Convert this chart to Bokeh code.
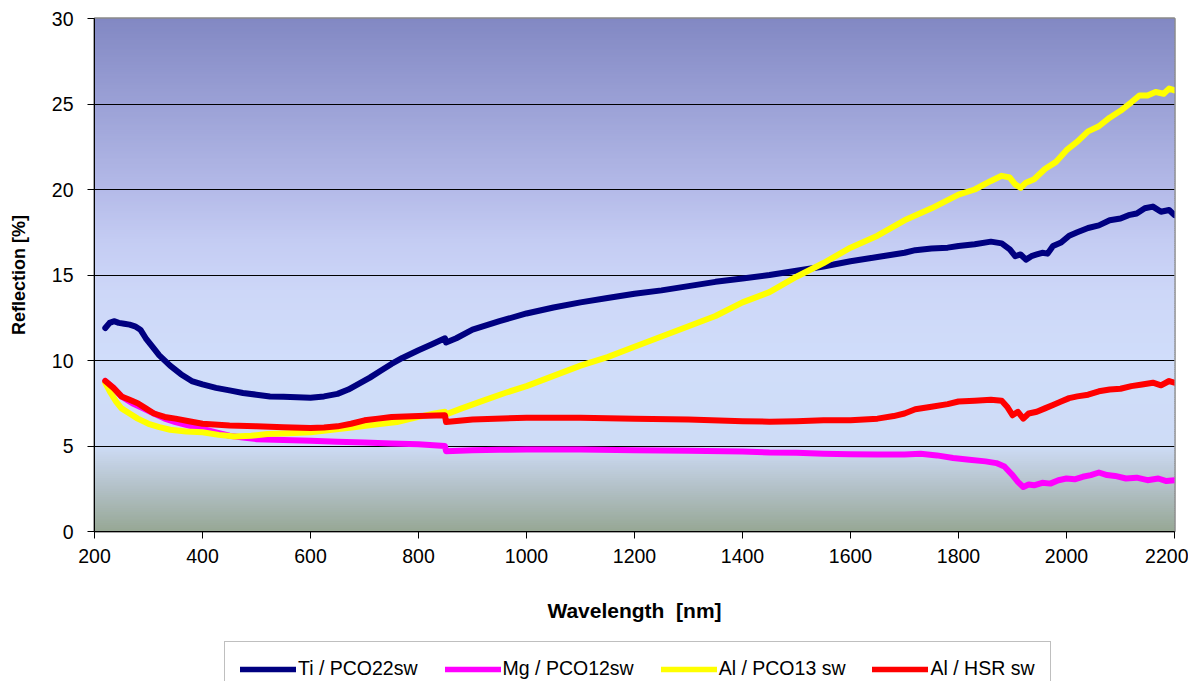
import numpy as np
from bokeh.plotting import figure
from bokeh.layouts import column
from bokeh.models import Range1d, FixedTicker, Legend, LegendItem
from bokeh.embed import file_html
from bokeh.resources import INLINE

# ---------------- data ----------------
series_names = ["Ti / PCO22sw", "Mg / PCO12sw", "Al / PCO13 sw", "Al / HSR sw"]
series_colors = ["#000080", "#FF00FF", "#FFFF00", "#FF0000"]

ti_x = [220, 228, 236, 245, 255, 265, 275, 285, 295, 305, 320, 340, 360, 380, 400, 425, 450, 475, 500, 525,
        550, 575, 600, 625, 650, 670, 690, 710, 730, 750, 770, 800, 825, 849, 851, 870, 900, 950, 1000, 1050,
        1100, 1150, 1200, 1250, 1300, 1350, 1400, 1450, 1500, 1550, 1600, 1650, 1700, 1720, 1750, 1780, 1800,
        1830, 1860, 1880, 1895, 1905, 1915, 1925, 1935, 1945, 1955, 1965, 1975, 1990, 2005, 2020, 2040, 2060,
        2080, 2100, 2115, 2130, 2145, 2160, 2175, 2190, 2200]
ti_y = [11.9, 12.2, 12.3, 12.2, 12.15, 12.1, 12.0, 11.8, 11.3, 10.9, 10.3, 9.7, 9.2, 8.8, 8.6, 8.4, 8.25, 8.1, 8.0, 7.9,
        7.88, 7.85, 7.82, 7.9, 8.05, 8.3, 8.65, 9.0, 9.4, 9.8, 10.15, 10.6, 10.95, 11.3, 11.05, 11.3, 11.8, 12.3, 12.75, 13.1,
        13.4, 13.65, 13.9, 14.1, 14.35, 14.6, 14.8, 15.0, 15.25, 15.5, 15.8, 16.05, 16.3, 16.45, 16.55, 16.6, 16.7,
        16.8, 16.95, 16.85, 16.5, 16.1, 16.2, 15.9, 16.1, 16.2, 16.3, 16.25, 16.7, 16.9, 17.3, 17.5, 17.75, 17.9,
        18.2, 18.3, 18.5, 18.6, 18.9, 19.0, 18.7, 18.8, 18.5]

mg_x = [220, 235, 250, 270, 290, 310, 330, 350, 375, 400, 425, 450, 475, 500, 550, 600, 650, 700, 750, 800, 849,
        851, 900, 950, 1000, 1100, 1200, 1300, 1400, 1450, 1500, 1550, 1600, 1650, 1700, 1730, 1760, 1790, 1820,
        1850, 1870, 1885, 1900, 1910, 1920, 1930, 1940, 1955, 1970, 1985, 2000, 2015, 2030, 2045, 2060, 2075,
        2090, 2110, 2130, 2150, 2170, 2185, 2200]
mg_y = [8.8, 8.4, 7.9, 7.5, 7.2, 6.9, 6.6, 6.4, 6.2, 6.0, 5.8, 5.6, 5.5, 5.4, 5.35, 5.3, 5.25, 5.2, 5.15, 5.1, 5.0,
        4.7, 4.75, 4.78, 4.8, 4.8, 4.75, 4.72, 4.68, 4.62, 4.6, 4.55, 4.52, 4.5, 4.5, 4.55, 4.45, 4.3, 4.2,
        4.1, 4.0, 3.8, 3.3, 2.9, 2.6, 2.75, 2.7, 2.85, 2.8, 3.0, 3.1, 3.05, 3.2, 3.3, 3.45, 3.3,
        3.25, 3.1, 3.15, 3.0, 3.1, 2.95, 3.0]

al13_x = [220, 230, 240, 250, 265, 280, 300, 320, 340, 370, 400, 430, 460, 490, 520, 560, 600, 640, 680, 720, 760,
          800, 830, 849, 851, 880, 920, 960, 1000, 1050, 1100, 1150, 1200, 1250, 1300, 1350, 1400, 1450, 1500, 1550,
          1600, 1650, 1700, 1750, 1800, 1830, 1860, 1880, 1895, 1905, 1915, 1925, 1940, 1960, 1980, 2000, 2020,
          2040, 2060, 2080, 2100, 2120, 2135, 2150, 2165, 2180, 2190, 2200]
al13_y = [8.7, 8.1, 7.6, 7.2, 6.9, 6.6, 6.3, 6.1, 5.95, 5.85, 5.8, 5.65, 5.55, 5.6, 5.7, 5.75, 5.8, 5.95, 6.1, 6.25, 6.4,
          6.7, 6.9, 7.0, 6.85, 7.2, 7.65, 8.1, 8.5, 9.1, 9.7, 10.2, 10.8, 11.4, 12.0, 12.6, 13.4, 14.0, 14.9, 15.7,
          16.6, 17.3, 18.2, 18.9, 19.7, 20.0, 20.5, 20.8, 20.7, 20.3, 20.1, 20.4, 20.6, 21.2, 21.6, 22.3, 22.8,
          23.4, 23.7, 24.2, 24.6, 25.1, 25.5, 25.5, 25.7, 25.6, 25.9, 25.8]

hsr_x = [220, 235, 250, 265, 280, 295, 310, 330, 350, 375, 400, 450, 500, 550, 600, 625, 650, 675, 700, 725, 750,
         800, 849, 851, 900, 1000, 1100, 1200, 1300, 1400, 1450, 1500, 1550, 1600, 1650, 1680, 1700, 1720, 1750,
         1780, 1800, 1830, 1860, 1880, 1890, 1900, 1910, 1920, 1930, 1945, 1960, 1975, 1990, 2005, 2020, 2040,
         2060, 2080, 2100, 2120, 2140, 2160, 2175, 2190, 2200]
hsr_y = [8.8, 8.4, 7.9, 7.7, 7.5, 7.2, 6.9, 6.7, 6.6, 6.45, 6.3, 6.2, 6.15, 6.1, 6.05, 6.08, 6.15, 6.3, 6.5, 6.6, 6.7,
         6.75, 6.8, 6.4, 6.55, 6.65, 6.65, 6.6, 6.55, 6.45, 6.42, 6.45, 6.5, 6.5, 6.6, 6.75, 6.9, 7.15, 7.3,
         7.45, 7.6, 7.65, 7.7, 7.65, 7.3, 6.8, 7.0, 6.6, 6.9, 7.0, 7.2, 7.4, 7.6, 7.8, 7.9, 8.0,
         8.2, 8.3, 8.35, 8.5, 8.6, 8.7, 8.55, 8.8, 8.7]

x_ticks = [200, 400, 600, 800, 1000, 1200, 1400, 1600, 1800, 2000, 2200]
y_ticks = [0, 5, 10, 15, 20, 25, 30]

series_data = [(ti_x, ti_y), (mg_x, mg_y), (al13_x, al13_y), (hsr_x, hsr_y)]

# ---------------- style: background gradient stops ----------------
grad_pos = [0.0, 2.5, 4.5, 5.0, 10.0, 14.0, 17.0, 20.0, 25.0, 30.0]
grad_rgb = [(150, 167, 148), (178, 192, 198), (200, 214, 236), (206, 220, 246), (208, 221, 250),
            (205, 215, 248), (196, 204, 243), (180, 186, 232), (155, 161, 214), (130, 136, 195)]

FONT = "Liberation Sans"
W = 1188

p = figure(width=W, height=640, output_backend="svg", toolbar_location=None,
           x_range=Range1d(x_ticks[0], x_ticks[-1]), y_range=Range1d(y_ticks[0], y_ticks[-1]),
           min_border_left=94, min_border_right=14, min_border_top=18, min_border_bottom=109)

# gradient background
n_bands = 240
edges = np.linspace(y_ticks[0], y_ticks[-1], n_bands + 1)
step = edges[1] - edges[0]
mids = (edges[:-1] + edges[1:]) / 2
arr = np.array(grad_rgb, dtype=float)
cols = []
for m in mids:
    r = np.interp(m, grad_pos, arr[:, 0])
    g = np.interp(m, grad_pos, arr[:, 1])
    b = np.interp(m, grad_pos, arr[:, 2])
    cols.append("#%02x%02x%02x" % (int(round(r)), int(round(g)), int(round(b))))
top_edges = np.minimum(edges[1:] + step * 0.6, y_ticks[-1])
p.quad(left=x_ticks[0], right=x_ticks[-1], bottom=edges[:-1], top=top_edges,
       fill_color=cols, line_color=None, level="image")

# grid
p.xgrid.visible = False
p.ygrid.ticker = FixedTicker(ticks=y_ticks[1:-1])
p.ygrid.grid_line_color = "#000000"
p.ygrid.grid_line_width = 1

# outline
p.outline_line_color = "#8a8a8a"
p.outline_line_width = 2.5

# axes
for ax in (p.xaxis[0], p.yaxis[0]):
    ax.axis_line_color = "#000000"
    ax.axis_line_width = 1
    ax.major_tick_line_color = "#000000"
    ax.major_tick_in = 0
    ax.major_tick_out = 7
    ax.minor_tick_line_color = None
    ax.major_label_text_font = FONT
    ax.major_label_text_font_size = "19.5px"
    ax.major_label_text_color = "#000000"
    ax.axis_label_text_font = FONT
    ax.axis_label_text_font_style = "bold"
    ax.axis_label_text_color = "#000000"

p.xaxis.ticker = FixedTicker(ticks=x_ticks)
p.yaxis.ticker = FixedTicker(ticks=y_ticks)
p.xaxis.axis_label = "Wavelength\u00a0 [nm]"
p.yaxis.axis_label = "Reflection [%]"
p.xaxis.axis_label_text_font_size = "21px"
p.yaxis.axis_label_text_font_size = "18px"
p.xaxis.major_label_standoff = 10
p.yaxis.major_label_standoff = 14
p.xaxis.axis_label_standoff = 33
p.yaxis.axis_label_standoff = 20

# lines
for (xs, ys), col in zip(series_data, series_colors):
    p.line(xs, ys, line_color=col, line_width=6, line_join="round", line_cap="round")

# legend strip: a separate figure (its ranges keep the series out of view) so that the
# legend box can run off the bottom edge as in the reference
lg = figure(width=W, height=41, output_backend="svg", toolbar_location=None,
            x_axis_location=None, y_axis_location=None,
            x_range=Range1d(0, 1), y_range=Range1d(0, 1),
            min_border=0, min_border_left=0, min_border_right=0, min_border_top=0, min_border_bottom=0)
lg.outline_line_color = None
lg.xgrid.visible = False
lg.ygrid.visible = False
lrs = [lg.line(xs, ys, line_color=c, line_width=5.5, line_cap="round")
       for (xs, ys), c in zip(series_data, series_colors)]
items = [LegendItem(label=n, renderers=[r]) for n, r in zip(series_names, lrs)]
legend = Legend(items=items, orientation="horizontal", location=(130, -15.4),
                padding=15, spacing=27, margin=0,
                glyph_width=56, glyph_height=10, label_height=1, label_standoff=2,
                label_text_font=FONT, label_text_font_size="19.5px", label_text_color="#000000",
                border_line_color="#808080", border_line_width=1,
                background_fill_color="#ffffff", background_fill_alpha=1)
lg.add_layout(legend, "center")

layout = column(p, lg, spacing=0)
open("out.html", "w").write(file_html(layout, INLINE))
